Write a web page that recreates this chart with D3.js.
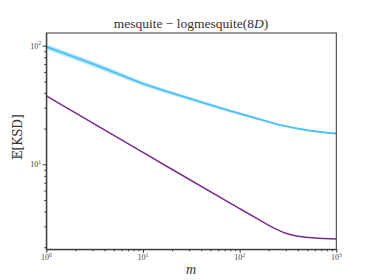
<!DOCTYPE html>
<html>
<head>
<meta charset="utf-8">
<script src="https://cdn.jsdelivr.net/npm/d3@7"></script>
<style>
  body { margin: 0; background: #fff; }
  svg { display: block; }
  .axis path { stroke: #333; }
  .axis line { stroke: #333; }
  .tick-label { font-family: "Liberation Serif", "DejaVu Serif", serif; font-size: 8px; fill: #444; }
</style>
</head>
<body>
<div id="chart"></div>
<script>
// sizes of the svg
var width = 374,
  height = 280;

// data
var mMesquite = [1, 3.6, 10, 30, 80, 130, 260, 500, 1000];
var mesquiteMean = [98, 66.5, 47.9, 36, 28.2, 25.2, 21.5, 19.4, 18.2];
var mesquiteLow = [92.5, 63, 45.8, 34.7, 27.4, 24.6, 21.1, 19.1, 18.0];
var mesquiteHigh = [103.5, 70, 50, 37.3, 29, 25.8, 21.9, 19.7, 18.4];

var mLog = [1, 10, 100, 160, 230, 300, 420, 600, 1000];
var logMean = [37.7, 12.6, 4.23, 3.4, 2.88, 2.62, 2.46, 2.39, 2.35];

var xMajor = [1, 10, 100, 1000];
var xMajorExp = ["0", "1", "2", "3"];
var yMajor = [10, 100];
var yMajorExp = ["1", "2"];

var margin = { left: 46.3, right: 336.3, top: 33, bottom: 249.3 };

var x = d3.scaleLog().domain([1, 1000]).range([margin.left, margin.right]);
var y = d3.scaleLog().domain([1.92, 128]).range([margin.bottom, margin.top]);

var svg = d3
  .select("#chart")
  .append("svg")
  .attr("width", width)
  .attr("height", height);

// minor ticks: 2..9 in each decade, kept inside the domain
function minorTicks(scale) {
  var d = scale.domain();
  var out = [];
  for (var e = -1; e < 4; e++) {
    for (var k = 2; k < 10; k++) {
      var v = k * Math.pow(10, e);
      if (v >= d[0] && v <= d[1]) out.push(v);
    }
  }
  return out;
}

// shaded band for mesquite
var band = d3
  .area()
  .x(function(d, i) { return x(mMesquite[i]); })
  .y0(function(d, i) { return y(mesquiteLow[i]); })
  .y1(function(d, i) { return y(mesquiteHigh[i]); })
  .curve(d3.curveMonotoneX);

var line = function(ms, values) {
  return d3
    .line()
    .x(function(d, i) { return x(ms[i]); })
    .y(function(d) { return y(d); })
    .curve(d3.curveMonotoneX)(values);
};

svg.append("path")
  .attr("d", band(mesquiteMean))
  .attr("fill", "#4fc3f7")
  .attr("fill-opacity", 0.35);

svg.append("path")
  .attr("d", line(mMesquite, mesquiteMean))
  .attr("fill", "none")
  .attr("stroke", "#4fc3f7")
  .attr("stroke-width", 2);

svg.append("path")
  .attr("d", line(mLog, logMean))
  .attr("fill", "none")
  .attr("stroke", "#7b2b90")
  .attr("stroke-width", 1.5);

// x axis: major and minor ticks
var xAxisG = svg.append("g").attr("class", "axis").attr("transform", "translate(0," + margin.bottom + ")");
xAxisG.call(d3.axisBottom(x).tickValues(minorTicks(x)).tickSize(2).tickSizeOuter(0).tickFormat(""));
xAxisG.append("g").call(d3.axisBottom(x).tickValues(xMajor).tickSize(3.5).tickSizeOuter(0).tickFormat(""))
  .select(".domain").remove();

var yAxisG = svg.append("g").attr("class", "axis").attr("transform", "translate(" + margin.left + ",0)");
yAxisG.call(d3.axisLeft(y).tickValues(minorTicks(y)).tickSize(2).tickSizeOuter(0).tickFormat(""));
yAxisG.append("g").call(d3.axisLeft(y).tickValues(yMajor).tickSize(3.5).tickSizeOuter(0).tickFormat(""))
  .select(".domain").remove();

// frame
svg.append("rect")
  .attr("x", margin.left)
  .attr("y", margin.top)
  .attr("width", margin.right - margin.left)
  .attr("height", margin.bottom - margin.top)
  .attr("fill", "none")
  .attr("stroke", "#333")
  .attr("stroke-width", 1);

// tick labels with superscripts
xMajor.forEach(function(v, i) {
  var t = svg.append("text")
    .attr("class", "tick-label")
    .attr("x", x(v))
    .attr("y", 260)
    .attr("text-anchor", "middle");
  t.append("tspan").text("10");
  t.append("tspan").attr("dy", -3.5).attr("font-size", "5.5px").text(xMajorExp[i]);
});

yMajor.forEach(function(v, i) {
  var t = svg.append("text")
    .attr("class", "tick-label")
    .attr("x", 41)
    .attr("y", y(v) + 3)
    .attr("text-anchor", "end");
  t.append("tspan").text("10");
  t.append("tspan").attr("dy", -3.5).attr("font-size", "5.5px").text(yMajorExp[i]);
});

// title
var title = svg.append("text")
  .attr("x", 191)
  .attr("y", 28)
  .attr("text-anchor", "middle")
  .attr("font-family", "Liberation Serif, DejaVu Serif, serif")
  .attr("font-size", "13.5px")
  .attr("fill", "#333");
title.append("tspan").text("mesquite \u2212 logmesquite(8");
title.append("tspan").attr("font-style", "italic").text("D");
title.append("tspan").text(")");

// axis labels
svg.append("text")
  .attr("x", 191)
  .attr("y", 274)
  .attr("text-anchor", "middle")
  .attr("font-family", "Liberation Serif, DejaVu Serif, serif")
  .attr("font-style", "italic")
  .attr("font-size", "14px")
  .attr("fill", "#333")
  .text("m");

svg.append("text")
  .attr("transform", "translate(22,137) rotate(-90)")
  .attr("text-anchor", "middle")
  .attr("font-family", "DejaVu Serif, Liberation Serif, serif")
  .attr("font-size", "12px")
  .attr("fill", "#333")
  .text("\uD835\uDD3C[KSD]");
</script>
</body>
</html>
